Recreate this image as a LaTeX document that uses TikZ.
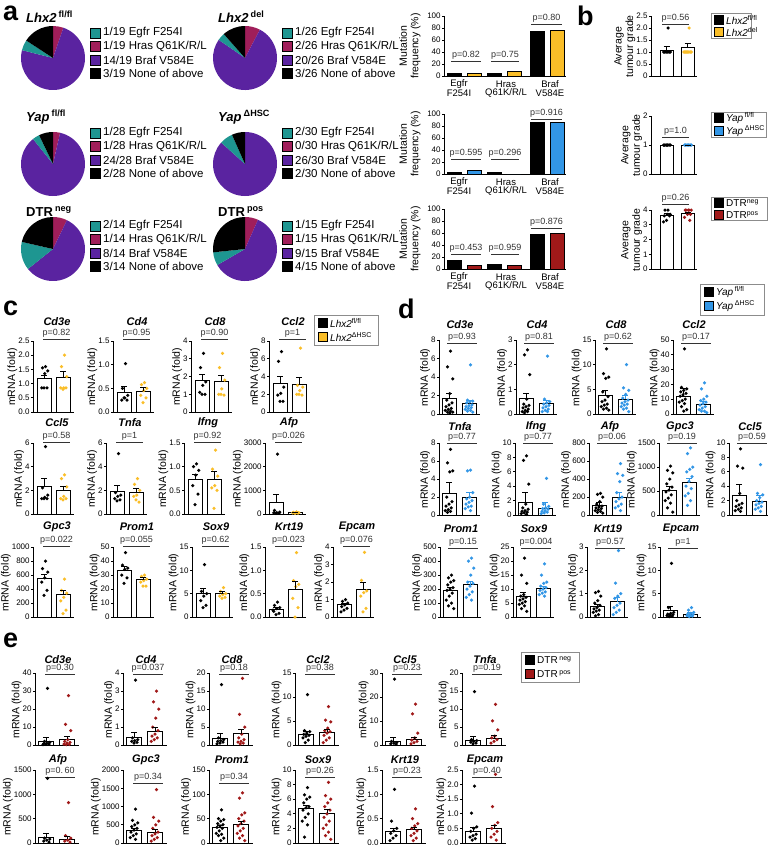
\documentclass[tikz,border=0pt]{standalone}
\usepackage{fontspec}
\setmainfont{Liberation Sans}
\usetikzlibrary{positioning}

\definecolor{cTeal}{RGB}{30,150,145}
\definecolor{cMag}{RGB}{160,30,90}
\definecolor{cPurp}{RGB}{90,35,160}
\definecolor{cYel}{RGB}{250,190,40}
\definecolor{cBlue}{RGB}{50,150,230}
\definecolor{cRed}{RGB}{160,25,25}

\tikzset{
  axisln/.style={line width=0.8pt},
  mbar/.style={draw=black,line width=0.6pt},
  barln/.style={draw=black,fill=white,line width=0.9pt},
  errln/.style={line width=0.8pt},
  pline/.style={line width=0.6pt,black!80},
  tick/.style={font=\fontsize{8}{9}\selectfont,inner sep=0.5pt},
  pval/.style={font=\fontsize{9}{10}\selectfont,inner sep=1pt},
  genet/.style={font=\fontsize{11}{12}\selectfont\bfseries\itshape},
  ylab/.style={font=\fontsize{10.5}{11.5}\selectfont,rotate=90,align=center,inner sep=0pt},
  xlab/.style={font=\fontsize{9.5}{10}\selectfont,inner sep=0pt},
  legtxt/.style={font=\fontsize{11.5}{12}\selectfont,inner sep=0pt,anchor=west},
  keytxt/.style={font=\fontsize{10}{11}\selectfont,inner sep=0pt,anchor=west},
  sqa/.style={draw=black,line width=0.5pt,minimum size=10pt,inner sep=0pt},
  sq/.style={draw=black,line width=0.5pt,minimum size=9pt,inner sep=0pt},
  keybox/.style={draw=black!45,line width=0.8pt},
  letter/.style={font=\fontsize{27}{27}\selectfont\bfseries,inner sep=0pt,anchor=base west},
  pietitle/.style={font=\fontsize{13}{14}\selectfont\bfseries,inner sep=0pt,anchor=base west}
}

\newcommand{\pieslice}[5]{\fill[#5] (#1,#2) -- ++(#3:32pt) arc[start angle=#3,end angle=#4,radius=32pt] -- cycle;}
\newcommand{\legrow}[4]{\node[sqa,fill=#3] at (#1+5,#2) {}; \node[legtxt] at (#1+13,#2) {#4};}
\newcommand{\keyrow}[4]{\node[sq,fill=#3] at (#1+4.5,#2) {}; \node[keytxt] at (#1+12,#2) {#4};}

\newcommand{\piechart}[9]{%
  \pgfmathsetmacro\pa{90-360*#7/#6}
  \pgfmathsetmacro\pb{\pa-360*#8/#6}
  \pgfmathsetmacro\pc{\pb-360*#9/#6}
  \pgfmathtruncatemacro\pn{#6-#7-#8-#9}
  \pieslice{#1}{#2}{90}{\pa}{cMag}
  \pieslice{#1}{#2}{\pa}{\pb}{cPurp}
  \pieslice{#1}{#2}{\pb}{\pc}{cTeal}
  \pieslice{#1}{#2}{\pc}{-270}{black}
  \node[pietitle] at (#1-27,#3) {#5};
  \legrow{#1+37}{#4}{cTeal}{#9/#6 Egfr F254I}
  \legrow{#1+37}{#4+13.5}{cMag}{#7/#6 Hras Q61K/R/L}
  \legrow{#1+37}{#4+27}{cPurp}{#8/#6 Braf V584E}
  \legrow{#1+37}{#4+40.5}{black}{\pn/#6 None of above}
}

\newcommand{\mutchart}[8]{%
  \draw[axisln] (444,#1-60) -- (444,#1) -- (566,#1);
  \foreach \tk in {0,20,40,60,80,100}
    \draw[axisln] (444,#1-\tk*0.6) -- ++(-2.5,0) node[tick,left] {\tk};
  \draw[mbar,fill=black] (447,#1) rectangle (461,#1-#3*0.6);
  \draw[mbar,fill=#2] (467,#1) rectangle (481,#1-#4*0.6);
  \draw[mbar,fill=black] (487,#1) rectangle (501,#1-#5*0.6);
  \draw[mbar,fill=#2] (507,#1) rectangle (521,#1-#6*0.6);
  \draw[mbar,fill=black] (530,#1) rectangle (544,#1-#7*0.6);
  \draw[mbar,fill=#2] (550,#1) rectangle (564,#1-#8*0.6);
  \node[xlab] at (459,#1+8) {Egfr};
  \node[xlab] at (459,#1+17) {F254I};
  \node[xlab] at (506,#1+8) {Hras};
  \node[xlab] at (506,#1+17) {Q61K/R/L};
  \node[xlab] at (550,#1+8) {Braf};
  \node[xlab] at (550,#1+17) {V584E};
  \node[ylab] at (410,#1-30) {Mutation\\frequency (\%)};
}
\newcommand{\mutp}[5]{%
  \draw[pline] (451,#1-15) -- node[pval,above] {#2} (481,#1-15);
  \draw[pline] (491,#1-15) -- node[pval,above] {#3} (519,#1-15);
  \draw[pline] (531,#1-#5) -- node[pval,above] {#4} (562,#1-#5);
}

\newcommand{\mframe}[7]{%
  \def\cx{#1}\def\cy{#2}\pgfmathsetmacro\cs{#3/#4}
  \coordinate (mid) at (#1,#2-#3/2);
  \draw[axisln] (#1,#2-#3) -- (#1,#2) -- (#1+\axl,#2);
  \foreach \tk in {#5}
    \draw[axisln] (#1,#2-\tk*\cs) -- ++(-2.5,0) node[tick,left] (tt) {\tk};
  \node[ylab,anchor=south,xshift=-0.5pt] at (tt.west |- mid) {\ylabtxt};
  \node[genet] at (#1+\ttx,#2-#3+\tty) {#6};
  \draw[pline] (#1+\pla,#2-#3+\ploff) -- node[pval,above] {#7} (#1+\plb,#2-#3+\ploff);
}
\newcommand{\grp}[6]{%
  \draw[barln] (\cx+#1-\bw,\cy) rectangle (\cx+#1+\bw,\cy-#2*\cs);
  \foreach \v [count=\i] in {#6} {
    \pgfmathsetmacro\jx{mod(\i*7,11)*0.75-3.75}
    \fill[#4] (\cx+#1+\jx,\cy-\v*\cs) circle[radius=1.75pt];
  }
  \draw[errln,#5] (\cx+#1,\cy-#2*\cs) -- (\cx+#1,\cy-#2*\cs-#3*\cs)
    (\cx+#1-3,\cy-#2*\cs-#3*\cs) -- (\cx+#1+3,\cy-#2*\cs-#3*\cs);
}
\newcommand{\ga}[3]{\grp{\ba}{#1}{#2}{black}{black}{#3}}
\newcommand{\gb}[3]{\grp{\bb}{#1}{#2}{\colB}{\errB}{#3}}

\begin{document}
\begin{tikzpicture}[x=1pt,y=-1pt]
\useasboundingbox (0,0) rectangle (768,847);
\fill[white] (0,0) rectangle (768,847);

% a
\node[letter] (la) at (3,20) {a};
\piechart{53}{58}{22}{33}{{\itshape Lhx2}\,\textsuperscript{fl/fl}}{19}{1}{14}{1}
\piechart{245}{58}{22}{33}{{\itshape Lhx2}\,\textsuperscript{del}}{26}{2}{20}{1}
\piechart{53}{164}{121}{133}{{\itshape Yap}\,\textsuperscript{fl/fl}}{28}{1}{24}{1}
\piechart{245}{164}{121}{133}{{\itshape Yap}\,\textsuperscript{ΔHSC}}{30}{0}{26}{2}
\piechart{53}{249}{216}{226}{DTR\,\textsuperscript{neg}}{14}{1}{8}{2}
\piechart{245}{249}{216}{226}{DTR\,\textsuperscript{pos}}{15}{1}{9}{1}
\mutchart{76}{cYel}{5.3}{3.8}{5.3}{7.7}{73.7}{76.9}
\mutp{76}{p=0.82}{p=0.75}{p=0.80}{52}
\mutchart{174}{cBlue}{3.6}{6.7}{3.6}{0}{85.7}{86.7}
\mutp{174}{p=0.595}{p=0.296}{p=0.916}{55}
\mutchart{269}{cRed}{14.3}{6.7}{7.1}{6.7}{57.1}{60}
\mutp{269}{p=0.453}{p=0.959}{p=0.876}{41}

% b
\node[letter] (lb) at (577,25) {b};
\def\ylabtxt{Average\\tumour grade}
\def\ba{15.5}\def\bb{36.5}\def\bw{6.5}\def\axl{46}\def\pla{11}\def\plb{38}\def\ttx{23}\def\tty{-19}
\def\errB{black}
\def\colB{cYel}\def\ploff{8}
\mframe{651}{76}{60}{2.5}{0,0.5,1.0,1.5,2.0,2.5}{}{p=0.56}
\ga{1.08}{0.15}{2.0,1,1,1,1,1,1,1,1}
\gb{1.2}{0.15}{2.0,1,1,1,1,1,1,1,1,1,1}
\def\colB{cBlue}\def\ploff{21}
\mframe{651}{174}{58}{2}{0,1,2}{}{p=1.0}
\ga{1.0}{0}{1,1,1,1,1,1,1,1}
\gb{1.0}{0}{1,1,1,1,1,1,1,1}
\def\colB{cRed}\def\ploff{-6}
\mframe{651}{269}{59}{4}{0,1,2,3,4}{}{p=0.26}
\ga{3.65}{0.1}{4,4,3.7,3.7,3.6,3.6,3.3,3.2}
\gb{3.75}{0.08}{4,4,4,4,4,3.7,3.7,3.5,3.3}
\draw[keybox] (711,13) rectangle (751,38);
\keyrow{714}{20}{black}{{\itshape Lhx2}\textsuperscript{fl/fl}}
\keyrow{714}{32}{cYel}{{\itshape Lhx2}\textsuperscript{del}}
\draw[keybox] (711,112) rectangle (766,137);
\keyrow{714}{118}{black}{{\itshape Yap}\,\textsuperscript{fl/fl}}
\keyrow{714}{131}{cBlue}{{\itshape Yap}\,\textsuperscript{ΔHSC}}
\draw[keybox] (711,197) rectangle (767,220);
\keyrow{714}{203}{black}{DTR\textsuperscript{neg}}
\keyrow{714}{215}{cRed}{DTR\textsuperscript{pos}}

% c
\node[letter] (lc) at (3,315) {c};
\def\ylabtxt{mRNA (fold)}
\def\colB{cYel}\def\errB{black}
\def\ba{11}\def\bb{30}\def\bw{7}\def\axl{41}\def\pla{10}\def\plb{37}\def\ttx{24}
\def\tty{-19}\def\ploff{-2}
\mframe{33}{412}{71}{2.5}{0.0,0.5,1.0,1.5,2.0,2.5}{Cd3e}{p=0.82}
\ga{1.17}{0.12}{1.6,1.55,1.45,1.35,0.85,0.85,0.85}
\gb{1.22}{0.22}{2.0,1.6,1.25,0.85,0.85,0.85,0.8}
\mframe{113}{412}{71}{1.5}{0.0,0.5,1.0,1.5}{Cd4}{p=0.95}
\ga{0.42}{0.12}{1.02,0.5,0.35,0.3,0.25,0.25,0.3}
\gb{0.44}{0.07}{0.62,0.58,0.5,0.45,0.35,0.3,0.2}
\mframe{191}{412}{71}{4}{0,1,2,3,4}{Cd8}{p=0.90}
\ga{1.75}{0.35}{3.3,2.5,1.7,1.5,1.1,1.0,1.0}
\gb{1.7}{0.35}{3.3,2.5,1.8,1.3,1.0,0.95,1.0}
\mframe{269}{412}{71}{8}{0,2,4,6,8}{Ccl2}{p=1}
\ga{3.2}{0.8}{6.8,5.7,2.8,2.1,1.9,1.2,1.2}
\gb{3.1}{0.8}{7.2,3.0,2.8,2.4,2.0,1.9,2.0}
\def\tty{-20}\def\ploff{-1}
\mframe{33}{514}{71}{6}{0,2,4,6}{Ccl5}{p=0.58}
\ga{2.35}{0.7}{5.7,2.2,1.6,1.4,1.3,1.3,1.3}
\gb{1.95}{0.35}{3.3,3.0,2.3,1.5,1.3,1.3,1.2}
\mframe{106}{514}{71}{6}{0,2,4,6}{Tnfa}{p=1}
\ga{1.9}{0.55}{5.1,1.8,1.6,1.5,1.3,1.2,1.1}
\gb{1.85}{0.3}{3.0,2.5,2.0,1.6,1.5,1.0,1.2}
\mframe{184}{514}{71}{1.5}{0.0,0.5,1.0,1.5}{Ifng}{p=0.92}
\ga{0.73}{0.1}{1.06,1.0,0.92,0.82,0.6,0.42,0.2}
\gb{0.74}{0.17}{1.35,0.95,0.8,0.6,0.55,0.5,0.12}
\mframe{265}{514}{71}{3000}{0,1000,2000,3000}{Afp}{p=0.026}
\ga{470}{350}{2530,150,80,60,50,40,30}
\gb{60}{10}{90,70,60,50,50,40,30}
\mframe{33}{617}{70}{1000}{0,200,400,600,800,1000}{Gpc3}{p=0.022}
\ga{550}{60}{800,690,640,560,500,380,310}
\gb{320}{60}{540,380,340,280,230,100,50}
\mframe{113}{617}{70}{50}{0,10,20,30,40,50}{Prom1}{p=0.055}
\ga{33.5}{2.5}{46,37,35,34,30,28,24}
\gb{26.5}{1.5}{30,29,27,26,25,22,22}
\mframe{192}{617}{70}{15}{0,5,10,15}{Sox9}{p=0.62}
\ga{5.0}{1.1}{11.2,5.5,5,4.5,3.5,2.5,2.0}
\gb{5.0}{0.5}{6.3,5.5,5,4.8,4.5,4.2,4.0}
\mframe{265}{617}{70}{1.5}{0.0,0.5,1.0,1.5}{Krt19}{p=0.023}
\ga{0.17}{0.04}{0.32,0.25,0.2,0.18,0.12,0.08,0.05,0.15}
\gb{0.6}{0.17}{1.38,0.78,0.7,0.65,0.4,0.2,0.0}
\mframe{333}{617}{70}{4}{0,1,2,3,4}{Epcam}{p=0.076}
\ga{0.7}{0.1}{1.0,0.9,0.8,0.7,0.6,0.5,0.4,0.3}
\gb{1.55}{0.45}{3.7,2.1,1.5,1.4,1.2,0.5,0.3}
\draw[keybox] (314,315) rectangle (378,345);
\keyrow{318}{323}{black}{{\itshape Lhx2}\textsuperscript{fl/fl}}
\keyrow{318}{337}{cYel}{{\itshape Lhx2}\textsuperscript{ΔHSC}}

% d
\node[letter] (ld) at (398,318) {d};
\def\colB{cBlue}\def\errB{cBlue}
\def\ba{10}\def\bb{30}\def\bw{7}\def\axl{41}\def\pla{8}\def\plb{38}\def\ttx{21}
\def\tty{-15}\def\ploff{3}
\mframe{439}{414}{74}{8}{0,2,4,6,8}{Cd3e}{p=0.93}
\ga{1.65}{0.55}{6.8,5.1,3.8,2.2,1.5,1.2,1.0,0.8,0.6,0.5,0.4,0.3,0.2,0.2,0.1}
\gb{1.15}{0.35}{5.3,1.5,1.4,1.3,1.2,1.0,0.9,0.8,0.7,0.6,0.5,0.4,0.3,0.2}
\mframe{516}{414}{74}{3}{0,1,2,3}{Cd4}{p=0.81}
\ga{0.62}{0.22}{2.6,2.4,1.6,0.6,0.4,0.35,0.3,0.25,0.2,0.15,0.1,0.1,0.05}
\gb{0.42}{0.14}{2.35,0.6,0.5,0.45,0.4,0.35,0.3,0.25,0.2,0.15,0.1,0.1}
\mframe{595}{414}{74}{15}{0,5,10,15}{Cd8}{p=0.62}
\ga{3.8}{1.0}{13.2,8.2,7.5,7.2,4.5,3.5,2.8,2.5,2.0,1.8,1.5,1.2,1.0,0.8}
\gb{3.0}{0.7}{10.0,5.3,4.8,4.0,3.2,2.8,2.5,2.2,2.0,1.8,1.5,1.2,1.0,0.5}
\mframe{673}{414}{74}{50}{0,10,20,30,40,50}{Ccl2}{p=0.17}
\ga{12}{5.5}{44,18,17,16,15,14,13,12,10,9,8,7,5,3,2}
\gb{6.5}{2}{21,17,12,10,9,8,7,6,5,4,3,2,2,1}
\def\tty{-16}\def\ploff{0}
\mframe{439}{515}{72}{8}{0,2,4,6,8}{Tnfa}{p=0.77}
\ga{2.4}{1.2}{7.3,5.8,4.9,4.8,2.0,1.5,1.2,1.0,0.8,0.6,0.5,0.4,0.3}
\gb{1.9}{0.6}{5.0,4.9,2.5,2.0,1.8,1.6,1.4,1.2,1.0,0.9,0.7,0.5}
\mframe{515}{515}{72}{10}{0,2,4,6,8,10}{Ifng}{p=0.77}
\ga{1.7}{1.5}{8.2,7.6,4.3,1.5,1.0,0.8,0.6,0.5,0.4,0.3,0.2,0.1}
\gb{0.9}{0.8}{5.1,1.5,1.2,1.0,0.9,0.8,0.6,0.5,0.4,0.3,0.2}
\mframe{589}{515}{72}{800}{0,200,400,600,800}{Afp}{p=0.06}
\ga{110}{25}{240,230,200,150,120,100,90,80,70,60,50,40,30,20}
\gb{200}{50}{570,460,440,370,250,200,180,150,120,100,80,50}
\mframe{659}{515}{72}{1500}{0,500,1000,1500}{Gpc3}{p=0.19}
\ga{510}{80}{1020,930,880,750,650,580,520,480,420,350,300,250,150,60}
\gb{680}{90}{1400,1280,1000,950,900,800,700,600,550,450,400,300,200}
\mframe{729}{515}{72}{10}{0,2,4,6,8,10}{Ccl5}{p=0.59}
\ga{2.7}{1.5}{9.2,6.8,6.5,3.0,2.0,1.6,1.4,1.2,1.0,0.8,0.6,0.5}
\gb{1.9}{0.8}{7.0,3.0,2.8,2.4,2.0,1.8,1.6,1.4,1.2,1.0,0.8,0.5}
\def\tty{-18}\def\ploff{1}
\mframe{440}{617}{70}{500}{0,100,200,300,400,500}{Prom1}{p=0.15}
\ga{190}{20}{300,280,260,250,230,210,200,190,170,150,120,100,80,60}
\gb{230}{25}{420,400,350,300,250,240,220,200,180,160,140,120}
\mframe{513}{617}{70}{25}{0,5,10,15,20,25}{Sox9}{p=0.004}
\ga{7.5}{1.3}{21,15,12,8,7.5,7,6.5,6,5.5,5,4.5,4,3,2}
\gb{10.3}{0.8}{19,15,12.5,12,11,10.5,10,9.5,9,8.5,8,7.5}
\mframe{587}{617}{70}{3}{0,1,2,3}{Krt19}{p=0.57}
\ga{0.45}{0.1}{1.1,1.05,0.9,0.7,0.6,0.5,0.4,0.35,0.3,0.25,0.2,0.1,0.05}
\gb{0.65}{0.2}{2.85,1.45,1.0,0.9,0.8,0.6,0.5,0.4,0.3,0.2,0.1}
\mframe{660}{617}{70}{15}{0,5,10,15}{Epcam}{p=1}
\ga{1.3}{0.9}{11.5,2.0,1.0,0.8,0.6,0.5,0.4,0.3,0.2,0.1}
\gb{0.6}{0.3}{2.0,1.5,1.0,0.8,0.6,0.5,0.4,0.3,0.2,0.1}
\draw[keybox] (700,284) rectangle (764,315);
\keyrow{704}{292}{black}{{\itshape Yap}\,\textsuperscript{fl/fl}}
\keyrow{704}{306}{cBlue}{{\itshape Yap}\,\textsuperscript{ΔHSC}}

% e
\node[letter] (le) at (3,647) {e};
\def\colB{cRed}\def\errB{black}
\def\ba{11}\def\bb{32}\def\bw{7.5}\def\axl{44}\def\pla{10}\def\plb{40}\def\ttx{23}
\def\tty{-13}\def\ploff{1}
\mframe{35}{745}{72}{40}{0,10,20,30,40}{Cd3e}{p=0.30}
\ga{2.2}{2.2}{31.5,2,1.5,1,0.8,0.5,0.3,0.2}
\gb{3.2}{1.6}{27.5,11.5,8,3,2,1.5,1,0.5,0.3,0.2}
\mframe{123}{745}{72}{4}{0,1,2,3,4}{Cd4}{p=0.037}
\ga{0.42}{0.28}{3.6,0.4,0.3,0.25,0.2,0.15,0.1}
\gb{0.78}{0.22}{3.0,2.4,2.0,1.5,1.0,0.8,0.6,0.5,0.4,0.3,0.2}
\mframe{209}{745}{72}{20}{0,5,10,15,20}{Cd8}{p=0.18}
\ga{1.9}{1.3}{16.8,2,1.5,1.2,1.0,0.8,0.5,0.3}
\gb{3.1}{1.3}{18.5,8.5,5,3,2,1.5,1,0.8,0.5,0.3}
\mframe{295}{745}{72}{15}{0,5,10,15}{Ccl2}{p=0.38}
\ga{2.1}{0.7}{10.5,3.0,2.8,2.5,2.2,2.0,1.8,1.5,1.0,0.5}
\gb{2.7}{0.6}{8.0,5.2,4.8,3.5,3.0,2.8,2.5,2.0,1.5,1.0,0.5}
\mframe{382}{745}{72}{30}{0,10,20,30}{Ccl5}{p=0.23}
\ga{1.5}{1.6}{27.5,1.5,1.0,0.8,0.5,0.3}
\gb{2.3}{1.0}{17,13,5,3,2,1.5,1,0.5}
\mframe{462}{745}{72}{20}{0,5,10,15,20}{Tnfa}{p=0.19}
\ga{1.4}{0.9}{14.8,1.5,1.2,1.0,0.8,0.5,0.3}
\gb{1.9}{0.8}{11.3,6.7,4.2,2.5,2.0,1.5,1.0,0.5}
\def\tty{-10}\def\ploff{7}
\mframe{35}{843}{73}{1500}{0,500,1000,1500}{Afp}{p=0.\,60}
\ga{110}{85}{1330,100,80,60,40,20}
\gb{80}{55}{830,150,100,60,40,20}
\def\ploff{13}
\mframe{123}{843}{73}{2000}{0,500,1000,1500,2000}{Gpc3}{p=0.34}
\ga{340}{60}{930,620,550,500,450,400,350,300,250,200,150,100}
\gb{290}{90}{1460,700,600,500,400,300,250,200,150,100,50}
\mframe{209}{843}{73}{150}{0,50,100,150}{Prom1}{p=0.34}
\ga{33}{4}{68,50,48,45,40,38,35,32,30,25,20,18,15,10,5}
\gb{38}{6}{103,92,62,58,50,45,40,35,30,25,20,15,10,5}
\def\ploff{7}
\mframe{295}{843}{73}{10}{0,2,4,6,8,10}{Sox9}{p=0.26}
\ga{4.8}{0.4}{7.6,6.6,6.3,6.0,5.5,5.0,4.8,4.5,4.0,3.5,3.0,2.5,0.8}
\gb{4.1}{0.55}{8.3,6.5,6.0,5.5,5.0,4.5,4.0,3.5,3.0,2.5,2.0,1.5,1.0,0.5}
\mframe{382}{843}{73}{1.5}{0.0,0.5,1.0,1.5}{Krt19}{p=0.23}
\ga{0.24}{0.07}{1.1,0.45,0.3,0.25,0.2,0.15,0.1,0.05}
\gb{0.27}{0.05}{0.7,0.5,0.4,0.35,0.3,0.25,0.2,0.15,0.1,0.05}
\mframe{462}{843}{73}{2.5}{0.0,0.5,1.0,1.5,2.0,2.5}{Epcam}{p=0.40}
\ga{0.4}{0.13}{1.95,1.02,0.55,0.5,0.4,0.3,0.25,0.2,0.15,0.1}
\gb{0.5}{0.12}{2.35,1.25,0.7,0.6,0.5,0.4,0.3,0.2,0.1}
\draw[keybox] (521,652) rectangle (579,682);
\keyrow{525}{660}{black}{DTR\,\textsuperscript{neg}}
\keyrow{525}{674}{cRed}{DTR\,\textsuperscript{pos}}
\end{tikzpicture}
\end{document}
